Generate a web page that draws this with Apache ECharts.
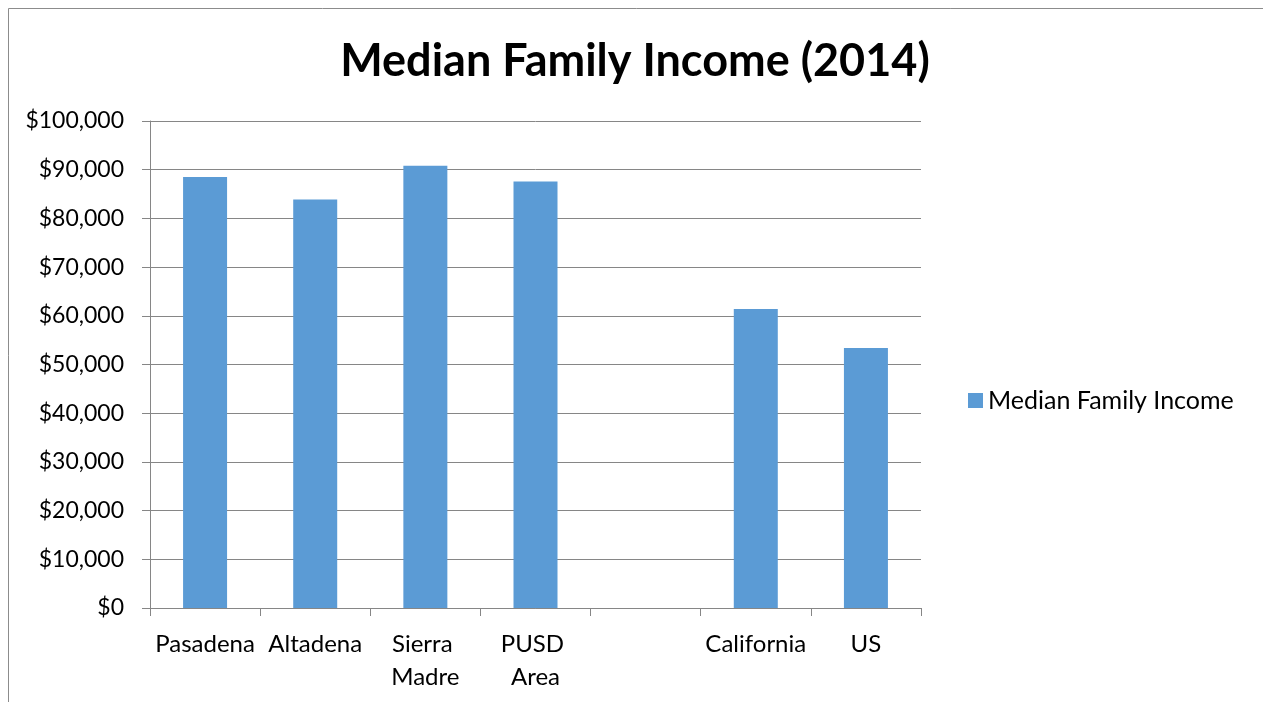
<!DOCTYPE html>
<html>
<head>
<meta charset="utf-8">
<script src="https://cdn.jsdelivr.net/npm/echarts@6/dist/echarts.min.js"></script>
<style>
  html, body { margin: 0; padding: 0; background: #ffffff; }
  #chart { width: 1263px; height: 702px; }
</style>
</head>
<body>
<div id="chart"></div>
<script>
// Median family income by area, 2014
const categories = ['Pasadena', 'Altadena', 'Sierra Madre', 'PUSD Area', '', 'California', 'US'];
const incomeValues = [88500, 83900, 90800, 87600, null, 61400, 53400];
const seriesName = 'Median Family Income';
const titleText = 'Median Family Income (2014)';

const FONT = 'Lato';
const AXIS_GRAY = '#868686';

const chart = echarts.init(document.getElementById('chart'));

const fmtDollar = v => '$' + v.toLocaleString('en-US');

chart.setOption({
  animation: false,
  backgroundColor: '#ffffff',
  title: {
    text: titleText,
    left: 635,
    textAlign: 'center',
    top: 34,
    textStyle: { fontFamily: FONT, fontWeight: 'bold', fontSize: 45, color: '#000000' }
  },
  legend: {
    data: [seriesName],
    orient: 'vertical',
    left: 963,
    top: 383,
    itemWidth: 15,
    itemHeight: 15,
    itemGap: 6,
    icon: 'rect',
    textStyle: { fontFamily: FONT, fontSize: 25, color: '#000000' }
  },
  grid: { left: 150, right: 342, top: 121, bottom: 94, containLabel: false },
  xAxis: {
    type: 'category',
    data: categories,
    axisLine: { show: true, lineStyle: { color: AXIS_GRAY, width: 1 } },
    axisTick: { show: true, length: 8, lineStyle: { color: AXIS_GRAY } },
    axisLabel: {
      interval: 0,
      margin: 20,
      width: 108,
      overflow: 'break',
      lineHeight: 33,
      fontFamily: FONT,
      fontSize: 24,
      color: '#000000'
    }
  },
  yAxis: {
    type: 'value',
    min: 0,
    max: 100000,
    interval: 10000,
    axisLine: { show: true, lineStyle: { color: AXIS_GRAY, width: 1 } },
    axisTick: { show: true, length: 8, lineStyle: { color: AXIS_GRAY } },
    splitLine: { show: true, lineStyle: { color: AXIS_GRAY, width: 1 } },
    axisLabel: {
      margin: 26,
      formatter: fmtDollar,
      fontFamily: FONT,
      fontSize: 23,
      color: '#000000'
    }
  },
  series: [{
    name: seriesName,
    type: 'bar',
    data: incomeValues,
    barWidth: 44,
    itemStyle: { color: '#5B9BD5' }
  }],
  graphic: [{
    type: 'rect',
    shape: { x: 8.5, y: 8.5, width: 1300, height: 800 },
    style: { fill: null, stroke: '#8c8c8c', lineWidth: 1 },
    silent: true,
    z: -1
  }]
});
// The title's bold run sits slightly right of the plot centre; nudge it.
chart.setOption({ title: { left: 630 } });
</script>
</body>
</html>
